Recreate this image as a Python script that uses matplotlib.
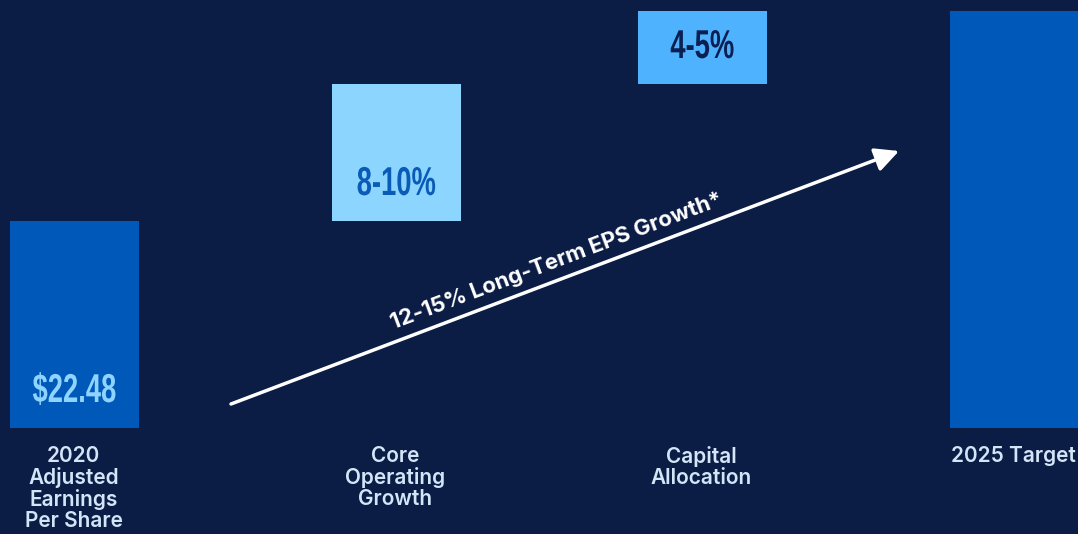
import matplotlib.pyplot as plt
from matplotlib.patches import Rectangle
from matplotlib.patheffects import AbstractPathEffect
from matplotlib.transforms import Affine2D

# EPS bridge: 2020 base, two growth drivers, 2025 target
categories = ["2020\nAdjusted\nEarnings\nPer Share", "Core\nOperating\nGrowth",
              "Capital\nAllocation", "2025 Target"]
value_labels = ["$22.48", "8-10%", "4-5%", ""]
step_heights = [207, 137, 73]          # relative bar heights of the steps
target_height = sum(step_heights)
growth_label = "12-15% Long-Term EPS Growth*"

bg = "#0b1c45"
bar_colors = ["#0059b8", "#8bd5ff", "#4eb2ff", "#0059b8"]
value_colors = ["#8fd4ff", "#0a5bb8", "#0b1f52", "none"]
label_color = "#d3e6f8"

x_left = [10, 332, 638, 950]
bar_w = 129


class Condensed(AbstractPathEffect):
    """Narrow the glyphs horizontally around the middle of the string."""

    def __init__(self, sx=0.7):
        super().__init__()
        self.sx = sx

    def draw_path(self, renderer, gc, tpath, affine, rgbFace=None):
        xs = tpath.vertices[:, 0]
        mid = (xs.min() + xs.max()) / 2
        squeeze = Affine2D().translate(-mid, 0).scale(self.sx, 1).translate(mid, 0)
        renderer.draw_path(gc, tpath, squeeze + affine, rgbFace)


fig = plt.figure(figsize=(10.78, 5.34), dpi=100, facecolor=bg)
ax = fig.add_axes([0, 0, 1, 1])
ax.set_facecolor(bg)
ax.set_xlim(0, 1078)
ax.set_ylim(-106, 428)
ax.axis("off")

bottoms = [0, step_heights[0], step_heights[0] + step_heights[1], 0]
heights = step_heights + [target_height]

for i in range(4):
    ax.add_patch(Rectangle((x_left[i], bottoms[i]), bar_w, heights[i],
                           facecolor=bar_colors[i], edgecolor="none"))
    cx = x_left[i] + bar_w / 2
    if value_labels[i]:
        ax.text(cx, bottoms[i] + 37, value_labels[i], ha="center", va="center",
                color=value_colors[i], fontsize=29, fontweight="bold",
                family="Liberation Sans", path_effects=[Condensed(0.68)])
    ax.text(cx - 1, -18, categories[i], ha="center", va="top", color=label_color,
            fontsize=15, fontweight="semibold", family="Inter", linespacing=1.06)

# growth arrow
ax.annotate("", xy=(899, 277), xytext=(231, 24),
            arrowprops=dict(arrowstyle="-|>", color="white", lw=2.5,
                            mutation_scale=36, shrinkA=0, shrinkB=0))
ax.text(557, 167, growth_label, ha="center", va="center", rotation=20.7,
        rotation_mode="anchor", color="white", fontsize=16,
        fontweight="bold", family="Inter")

fig.savefig("out.png", dpi=100, facecolor=bg)
